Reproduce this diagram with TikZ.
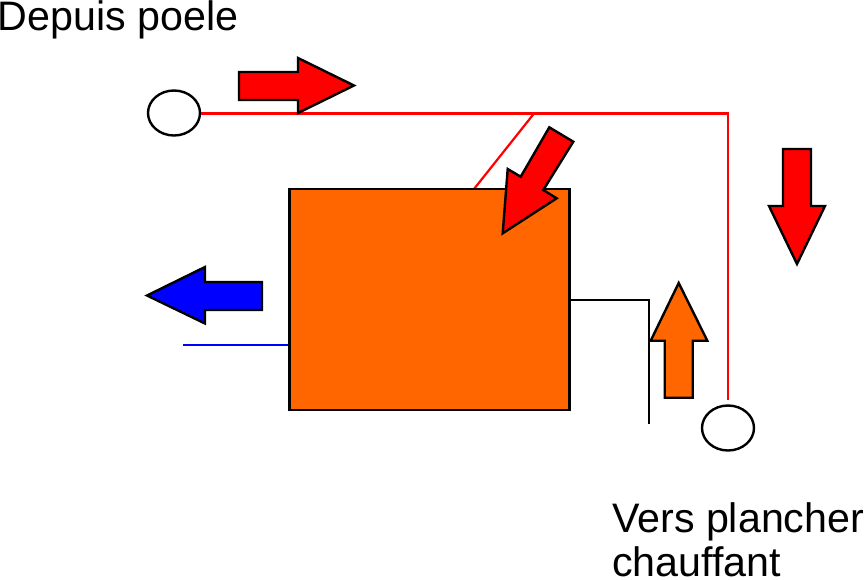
\documentclass[tikz,border=0pt]{standalone}
\usepackage{fontspec}
\setmainfont{Liberation Sans}
\usetikzlibrary{shapes.geometric}
\definecolor{ballonorange}{RGB}{255,102,0}
\tikzset{
  pipe/.style={line width=2.2pt},
  flow/.style={line width=2.4pt, draw=black, line join=miter},
  port/.style={ellipse, draw=black, line width=2.4pt, fill=white, inner sep=0pt, minimum width=52pt, minimum height=45pt},
  legend/.style={inner sep=0pt, font=\fontsize{41.2}{44.5}\selectfont, align=left}
}
\begin{document}
\begin{tikzpicture}[x=1pt, y=-1pt]
\useasboundingbox (0,0) rectangle (865,579);
% ports
\node[port] (poele) at (174,113) {};
\node[port] (plancher) at (728,428) {};
\coordinate (arrivee) at (728,400);
\coordinate (tee) at (534,113.5);
\coordinate (entree) at (474,189);
\coordinate (sortie) at (183,344.7);
\coordinate (retour) at (569.5,300);
\coordinate (fin) at (649,424);
% pipes
\draw[pipe, red] (poele.east |- tee) -| (arrivee);
\draw[pipe, red] (tee) -- (entree);
% tank
\node[draw=black, line width=2.4pt, fill=ballonorange, inner sep=0pt, minimum width=280pt, minimum height=221pt] (ballon) at (429.5,299.5) {};
\draw[pipe, blue] (sortie) -- (sortie -| ballon.west);
\draw[pipe, black] (retour) -| (fin);
% flow arrows
\draw[flow, fill=red] (239,72) -- (298,72) -- (298,58) -- (354,85.5) -- (298,113) -- (298,100) -- (239,100) -- cycle;
\draw[flow, fill=red] (549.3,127.3) -- (573.3,141.7) -- (543.3,190) -- (556.7,198.3) -- (502.7,233.3) -- (507.7,169) -- (520.7,176.7) -- cycle;
\draw[flow, fill=red] (783,149) -- (811,149) -- (811,206) -- (825,206) -- (797,264) -- (769,206) -- (783,206) -- cycle;
\draw[flow, fill=ballonorange] (678.7,283) -- (707.3,340.7) -- (692.7,340.7) -- (692.7,397.7) -- (664.7,397.7) -- (664.7,340.7) -- (650.7,340.7) -- cycle;
\draw[flow, fill=blue] (147,295.5) -- (205,267) -- (205,282) -- (262,282) -- (262,310) -- (205,310) -- (205,323.5) -- cycle;
% labels
\node[legend, anchor=base west] (depuis) at (-2.5,30) {Depuis poele};
\node[legend, anchor=base west] (vers) at (612,532) {Vers plancher};
\node[legend, anchor=base west] (chauffant) at (612,576.8) {chauffant};
\end{tikzpicture}
\end{document}
